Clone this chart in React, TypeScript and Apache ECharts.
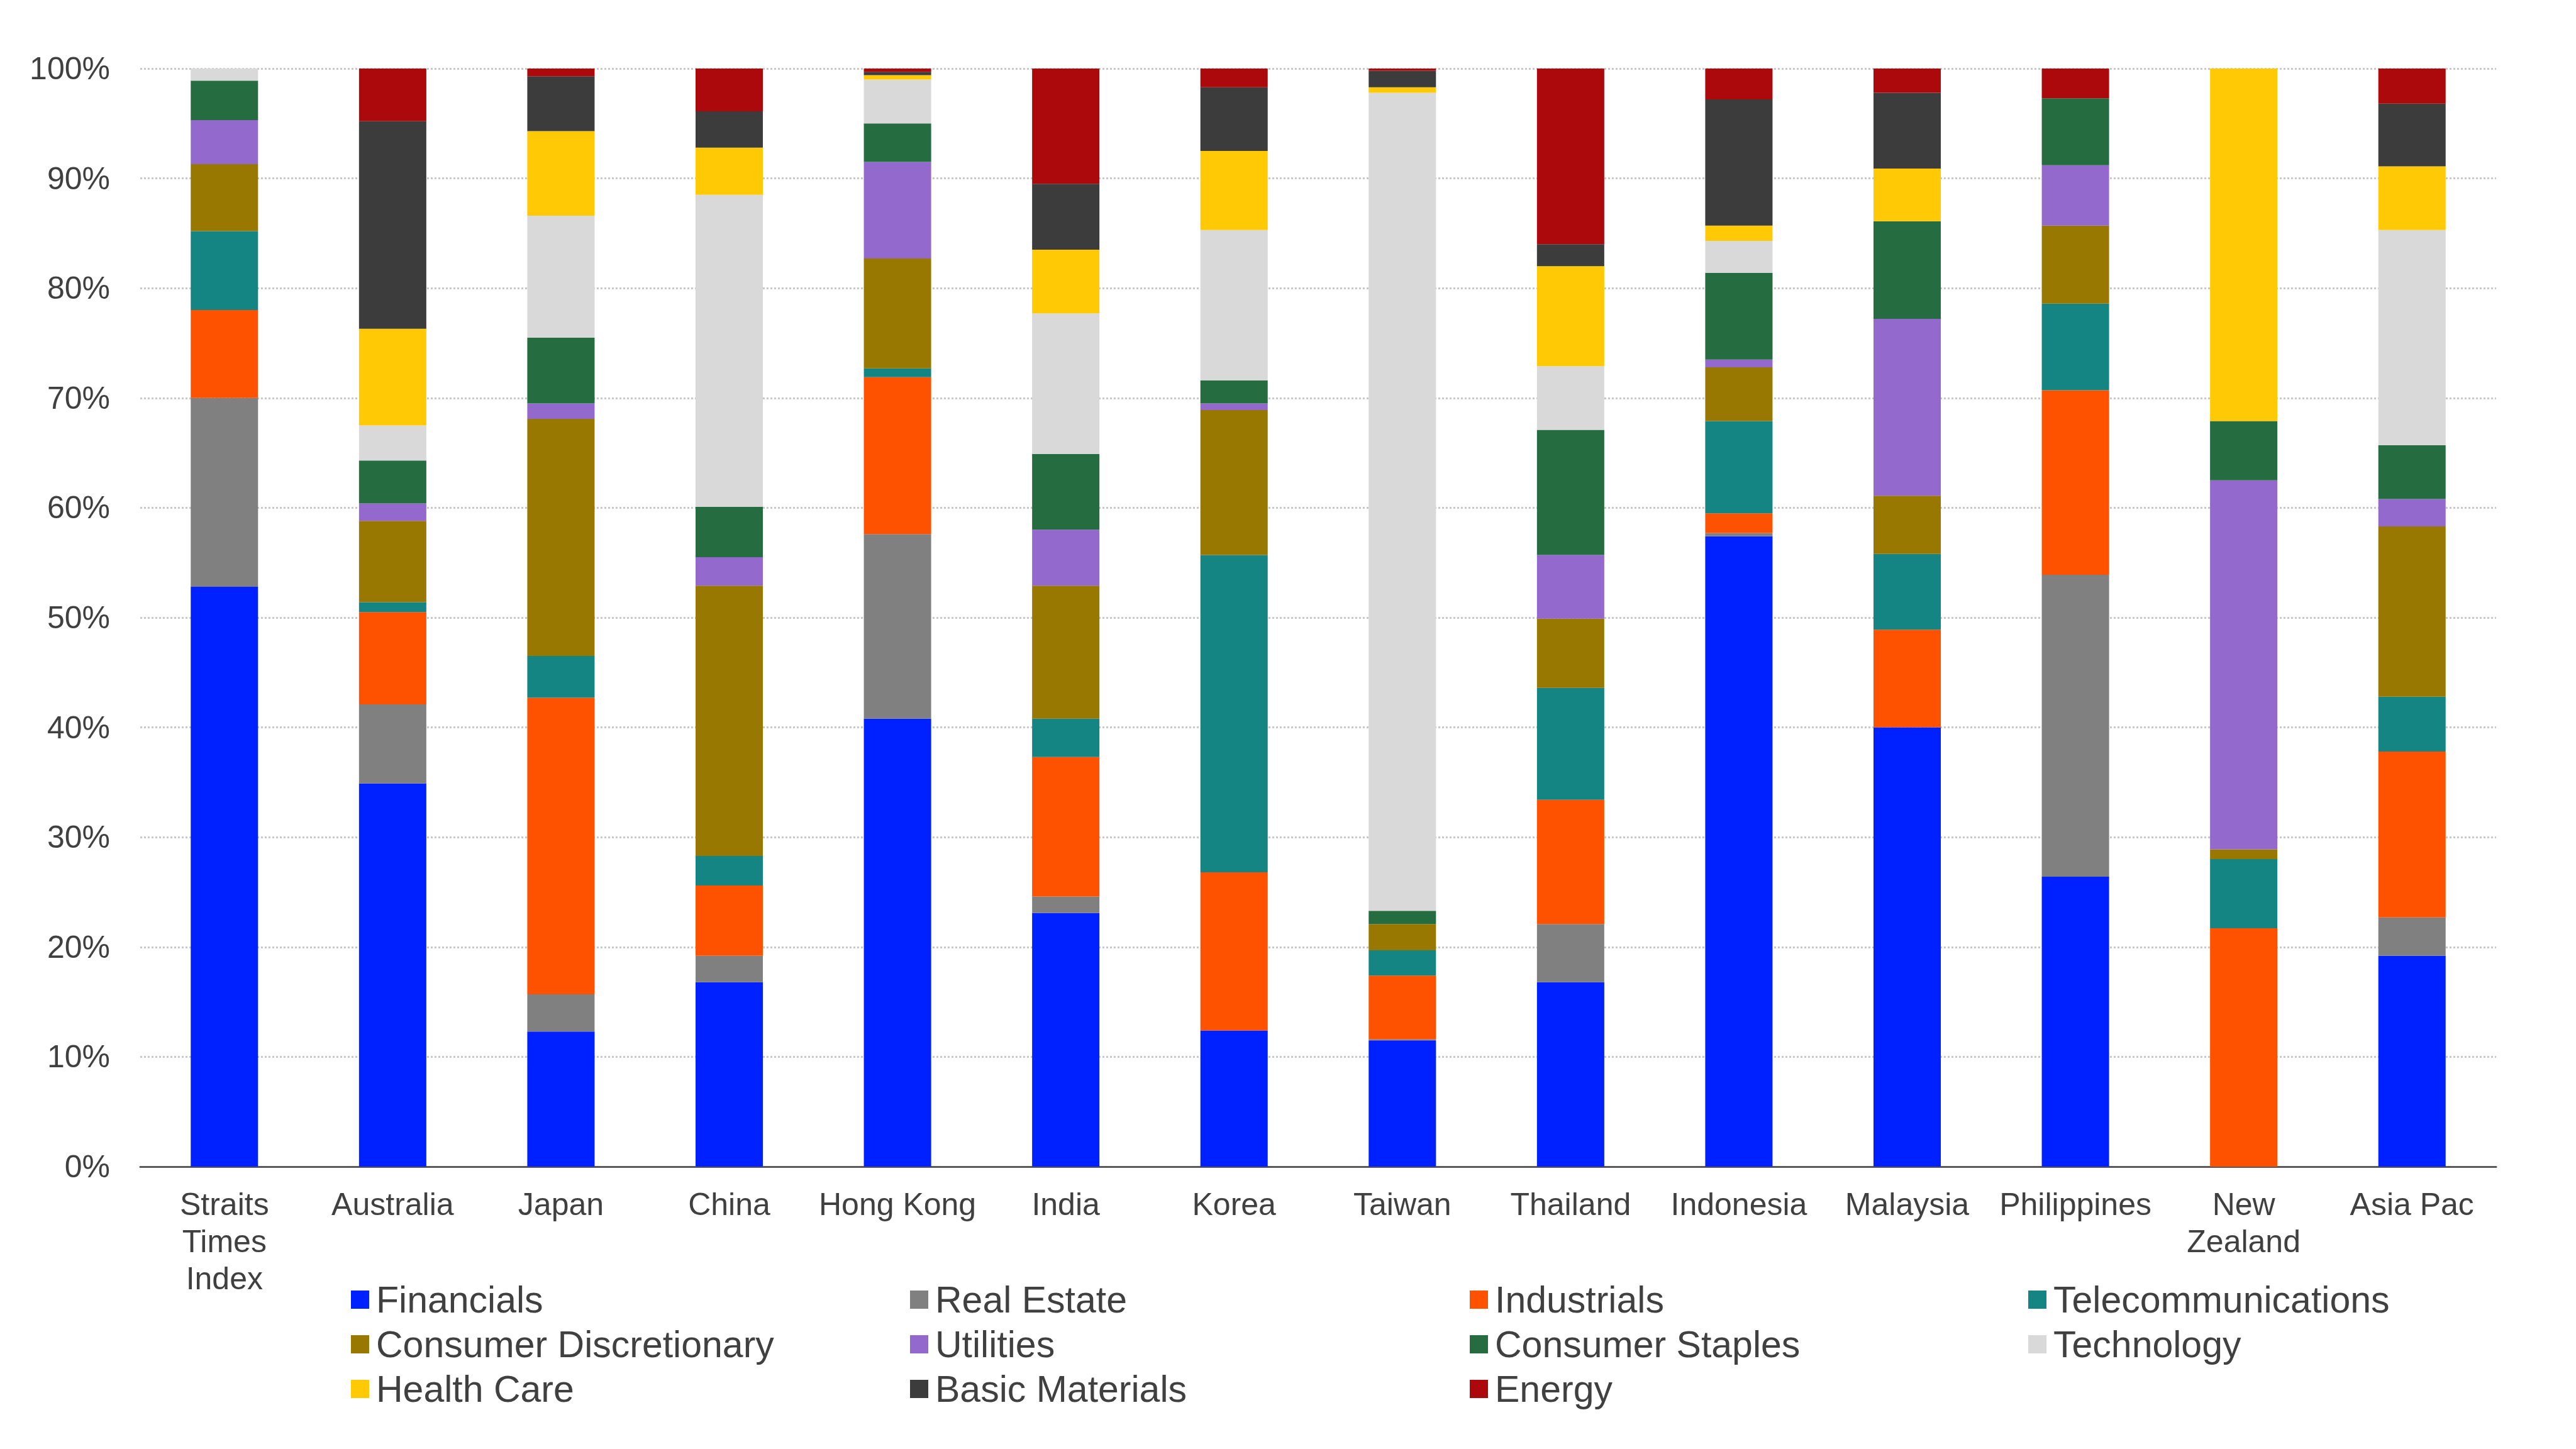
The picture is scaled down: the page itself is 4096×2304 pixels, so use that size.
import React, { useEffect, useRef } from 'react';
import * as echarts from 'echarts';

const markets = [
  'Straits\nTimes\nIndex', 'Australia', 'Japan', 'China', 'Hong Kong', 'India', 'Korea',
  'Taiwan', 'Thailand', 'Indonesia', 'Malaysia', 'Philippines', 'New\nZealand', 'Asia Pac',
];

// sector weights (%) per market, same order as markets
const financials = [52.8, 34.9, 12.3, 16.8, 40.8, 23.1, 12.4, 11.5, 16.8, 57.4, 40.0, 26.4, 0, 19.2];
const realEstate = [17.2, 7.2, 3.4, 2.4, 16.8, 1.5, 0, 0.1, 5.3, 0.3, 0, 27.5, 0, 3.5];
const industrials = [8.0, 8.4, 27.0, 6.4, 14.3, 12.7, 14.4, 5.8, 11.3, 1.8, 8.9, 16.8, 21.7, 15.1];
const telecoms = [7.2, 0.9, 3.8, 2.7, 0.8, 3.5, 28.9, 2.3, 10.2, 8.4, 6.9, 7.9, 6.3, 5.0];
const consumerDisc = [6.1, 7.4, 21.6, 24.6, 10.0, 12.1, 13.2, 2.4, 6.3, 4.9, 5.3, 7.1, 0.9, 15.5];
const utilities = [4.0, 1.6, 1.4, 2.6, 8.8, 5.1, 0.6, 0, 5.8, 0.7, 16.1, 5.5, 33.6, 2.5];
const consumerStaples = [3.6, 3.9, 6.0, 4.6, 3.5, 6.9, 2.1, 1.2, 11.4, 7.9, 8.9, 6.1, 5.4, 4.9];
const technology = [1.1, 3.2, 11.1, 28.4, 4.0, 12.8, 13.7, 74.5, 5.8, 2.9, 0, 0, 0, 19.6];
const healthCare = [0, 8.8, 7.7, 4.3, 0.4, 5.8, 7.2, 0.5, 9.1, 1.4, 4.8, 0, 32.1, 5.8];
const basicMaterials = [0, 18.9, 5.0, 3.3, 0.3, 6.0, 5.8, 1.5, 2.0, 11.5, 6.9, 0, 0, 5.7];
const energy = [0, 4.9, 0.7, 3.9, 0.3, 10.5, 1.7, 0.2, 16.0, 2.8, 2.2, 2.7, 0, 3.2];

const sectors = [
  { name: 'Financials', color: '#0021ff', data: financials },
  { name: 'Real Estate', color: '#808080', data: realEstate },
  { name: 'Industrials', color: '#ff5200', data: industrials },
  { name: 'Telecommunications', color: '#148583', data: telecoms },
  { name: 'Consumer Discretionary', color: '#987800', data: consumerDisc },
  { name: 'Utilities', color: '#9369ce', data: utilities },
  { name: 'Consumer Staples', color: '#256d41', data: consumerStaples },
  { name: 'Technology', color: '#d9d9d9', data: technology },
  { name: 'Health Care', color: '#ffca05', data: healthCare },
  { name: 'Basic Materials', color: '#3c3c3c', data: basicMaterials },
  { name: 'Energy', color: '#ab090c', data: energy },
];

const yTicks = ['0%', '10%', '20%', '30%', '40%', '50%', '60%', '70%', '80%', '90%', '100%'];

const FONT = "'Liberation Sans', Arial, sans-serif";
const legendLefts = [553, 1442, 2332, 3220];

const App: React.FC = () => {
  const ref = useRef<HTMLDivElement>(null);

  useEffect(() => {
    document.body.style.margin = '0';
    document.body.style.overflow = 'hidden';
    if (!ref.current) return;
    const chart = echarts.init(ref.current, undefined, { renderer: 'svg' });

    // legend is laid out in 4 columns, row-major like the original
    const legends = legendLefts.map((left, col) => ({
      orient: 'vertical',
      left,
      top: 2026,
      itemWidth: 29,
      itemHeight: 29,
      itemGap: 0,
      icon: 'rect',
      selectedMode: false,
      data: sectors.filter((_, i) => i % 4 === col).map((s) => s.name),
      textStyle: {
        fontFamily: FONT,
        fontSize: 59,
        color: '#404040',
        lineHeight: 71,
        padding: [0, 0, 0, 6],
      },
    }));

    chart.setOption({
      animation: false,
      textStyle: { fontFamily: FONT },
      grid: { left: 223, right: 127, top: 109, bottom: 449 },
      legend: legends,
      xAxis: {
        type: 'category',
        data: markets,
        axisLine: { lineStyle: { color: '#595959', width: 3 } },
        axisTick: { length: 22, lineStyle: { color: '#595959', width: 3 } },
        axisLabel: {
          interval: 0,
          fontFamily: FONT,
          fontSize: 50,
          lineHeight: 59,
          color: '#404040',
          margin: 30,
        },
      },
      yAxis: {
        type: 'value',
        min: 0,
        max: 100,
        interval: 10,
        axisLine: { show: false },
        axisTick: { show: false },
        axisLabel: {
          fontFamily: FONT,
          fontSize: 50,
          color: '#404040',
          margin: 48,
          formatter: (v: number) => yTicks[Math.round(v / 10)],
        },
        splitLine: { lineStyle: { color: '#c8c8c8', width: 3, type: [3, 3] } },
      },
      series: sectors.map((s) => ({
        name: s.name,
        type: 'bar',
        stack: 'total',
        barWidth: '40%',
        itemStyle: { color: s.color },
        data: s.data,
      })),
    });

    return () => chart.dispose();
  }, []);

  return <div ref={ref} style={{ width: 4096, height: 2304, background: '#fff' }} />;
};

export default App;
